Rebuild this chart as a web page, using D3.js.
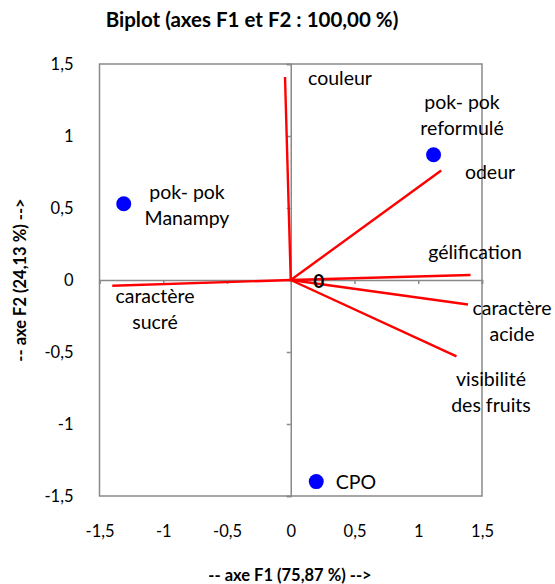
<!DOCTYPE html>
<html>
<head>
<meta charset="utf-8" />
<title>Biplot</title>
<script src="https://cdn.jsdelivr.net/npm/d3@7"></script>
<style>
  body { margin: 0; background: #fff; }
  svg text { font-family: Lato, "Open Sans", sans-serif; fill: #000; }
</style>
</head>
<body>
<div id="chart"></div>
<script>
  // variables (red vectors)
  var varNames = [["couleur"], ["odeur"], ["gélification"], ["caractère", "acide"], ["visibilité", "des fruits"], ["caractère", "sucré"]];
  var varX = [-0.045, 1.18, 1.41, 1.39, 1.30, -1.40];
  var varY = [1.41, 0.76, 0.035, -0.17, -0.53, -0.04];

  // observations (blue points)
  var obsNames = [["pok- pok", "Manampy"], ["pok- pok", "reformulé"], ["CPO"]];
  var obsX = [-1.31, 1.12, 0.20];
  var obsY = [0.53, 0.87, -1.40];

  var ticks = [-1.5, -1, -0.5, 0, 0.5, 1, 1.5];

  var W = 555, H = 584;
  var x = d3.scaleLinear().domain([-1.5, 1.5]).range([99.5, 482]);
  var y = d3.scaleLinear().domain([-1.5, 1.5]).range([496, 64]);

  var loc = d3.formatLocale({decimal: ",", thousands: " ", grouping: [3], currency: ["", ""], minus: "-"});
  var fmt = loc.format("");

  var svg = d3.select("#chart").append("svg").attr("width", W).attr("height", H);
  var grey = "#898989";

  // box
  svg.append("rect").attr("x", x(-1.5)).attr("y", y(1.5))
    .attr("width", x(1.5) - x(-1.5)).attr("height", y(-1.5) - y(1.5))
    .attr("fill", "none").attr("stroke", grey).attr("stroke-width", 1.5);

  // centre axes with small ticks
  var xAxisC = svg.append("g").attr("transform", "translate(0," + y(0) + ")")
    .call(d3.axisBottom(x).tickValues(ticks).tickSize(4).tickFormat(""));
  var yAxisC = svg.append("g").attr("transform", "translate(" + x(0) + ",0)")
    .call(d3.axisLeft(y).tickValues(ticks).tickSize(4).tickFormat(""));
  [xAxisC, yAxisC].forEach(function(g) {
    g.selectAll("path,line").attr("stroke", grey).attr("stroke-width", 1.5);
  });

  // tick labels on box edges
  var xLab = svg.append("g").attr("transform", "translate(0," + (y(-1.5) + 35) + ")")
    .call(d3.axisBottom(x).tickValues(ticks).tickSize(0).tickFormat(fmt));
  var yLab = svg.append("g").attr("transform", "translate(" + (x(-1.5) - 23) + ",0)")
    .call(d3.axisLeft(y).tickValues(ticks).tickSize(0).tickFormat(fmt));
  [xLab, yLab].forEach(function(g) {
    g.select(".domain").remove();
    g.selectAll("text").attr("font-size", 16.5).attr("font-family", "Lato, sans-serif").attr("fill", "#000");
  });
  xLab.selectAll("text").attr("dy", "0.35em").attr("y", 0);

  // red vectors
  svg.selectAll("line.vec").data(varX).enter().append("line")
    .attr("class", "vec")
    .attr("x1", x(0)).attr("y1", y(0))
    .attr("x2", function(d) { return x(d); })
    .attr("y2", function(d, i) { return y(varY[i]); })
    .attr("stroke", "#ff0000").attr("stroke-width", 2.4);

  // blue points
  svg.selectAll("circle.obs").data(obsX).enter().append("circle")
    .attr("class", "obs")
    .attr("cx", function(d) { return x(d); })
    .attr("cy", function(d, i) { return y(obsY[i]); })
    .attr("r", 7.5).attr("fill", "#0000ff");

  // labels (centre of first line, offsets in px)
  function multiLabel(lines, cx, cy) {
    var t = svg.append("text").attr("text-anchor", "middle").attr("font-size", 19.5);
    lines.forEach(function(s, i) {
      t.append("tspan").attr("x", cx).attr("y", cy + i * 26).attr("dy", "0.35em").text(s);
    });
  }
  var varLabPos = [[340, 78], [490, 172], [475, 252], [512, 308], [491, 379], [155, 296]];
  varNames.forEach(function(n, i) { multiLabel(n, varLabPos[i][0], varLabPos[i][1]); });
  var obsLabPos = [[187, 192], [462, 102], [356, 482]];
  obsNames.forEach(function(n, i) { multiLabel(n, obsLabPos[i][0], obsLabPos[i][1]); });

  // bold 0 near origin
  svg.append("text").attr("x", x(0) + 28).attr("y", y(0) + 1).attr("dy", "0.35em")
    .attr("text-anchor", "middle").attr("font-size", 19).attr("font-weight", "bold").text("0");

  // titles
  svg.append("text").attr("x", 252).attr("y", 20).attr("dy", "0.35em")
    .attr("text-anchor", "middle").attr("font-size", 20.5).attr("font-weight", "bold")
    .text("Biplot (axes F1 et F2 : 100,00 %)");
  svg.append("text").attr("x", 290).attr("y", 575).attr("dy", "0.35em")
    .attr("text-anchor", "middle").attr("font-size", 16.5).attr("font-weight", "bold")
    .text("-- axe F1 (75,87 %) -->");
  svg.append("text").attr("transform", "translate(20,280) rotate(-90)").attr("dy", "0.35em")
    .attr("text-anchor", "middle").attr("font-size", 16.5).attr("font-weight", "bold")
    .text("-- axe F2 (24,13 %) -->");
</script>
</body>
</html>
